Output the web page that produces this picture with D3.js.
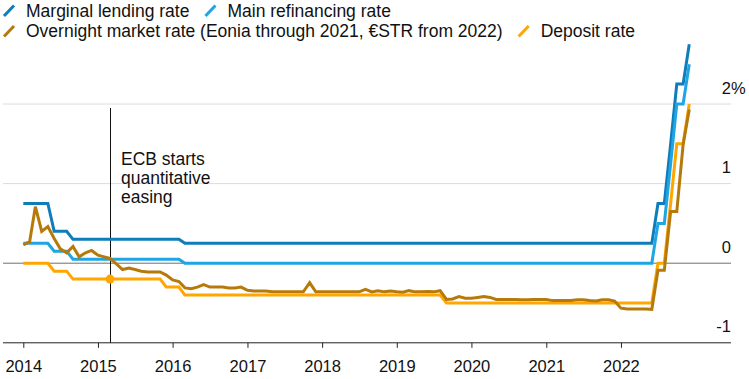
<!DOCTYPE html>
<html>
<head>
<meta charset="utf-8">
<script src="https://cdn.jsdelivr.net/npm/d3@7"></script>
<style>
  body { margin: 0; background: #fff; }
  svg { display: block; font-family: "Liberation Sans", Arial, sans-serif; }
</style>
</head>
<body>
<script>
// Year ticks and y ticks.
const yearTicks = [2014, 2015, 2016, 2017, 2018, 2019, 2020, 2021, 2022];
const yTicks = [-1, 0, 1, 2];

// Policy rates, vertices (month, %).
const marginalLending = [
  ['2014-01', 0.75], ['2014-05', 0.75], ['2014-06', 0.40], ['2014-08', 0.40],
  ['2014-09', 0.30], ['2016-02', 0.30], ['2016-03', 0.25], ['2022-06', 0.25],
  ['2022-07', 0.75], ['2022-08', 0.75], ['2022-09', 1.50], ['2022-10', 2.25],
  ['2022-11', 2.25], ['2022-12', 2.75]
];
const mainRefinancing = [
  ['2014-01', 0.25], ['2014-05', 0.25], ['2014-06', 0.15], ['2014-08', 0.15],
  ['2014-09', 0.05], ['2016-02', 0.05], ['2016-03', 0.00], ['2022-06', 0.00],
  ['2022-07', 0.50], ['2022-08', 0.50], ['2022-09', 1.25], ['2022-10', 2.00],
  ['2022-11', 2.00], ['2022-12', 2.50]
];
const depositRate = [
  ['2014-01', 0.00], ['2014-05', 0.00], ['2014-06', -0.10], ['2014-08', -0.10],
  ['2014-09', -0.20], ['2015-11', -0.20], ['2015-12', -0.30], ['2016-02', -0.30],
  ['2016-03', -0.40], ['2019-08', -0.40], ['2019-09', -0.50], ['2022-06', -0.50],
  ['2022-07', 0.00], ['2022-08', 0.00], ['2022-09', 0.75], ['2022-10', 1.50],
  ['2022-11', 1.50], ['2022-12', 2.00]
];

// Overnight market rate, monthly Jan 2014 - Dec 2022.
const overnightStart = '2014-01';
const overnightRate = [
  // 2014
  0.23, 0.27, 0.71, 0.40, 0.46, 0.31, 0.18, 0.13, 0.21, 0.08, 0.13, 0.16,
  // 2015
  0.10, 0.08, 0.06, -0.01, -0.08, -0.06, -0.08, -0.10, -0.11, -0.11, -0.11, -0.15,
  // 2016
  -0.21, -0.23, -0.31, -0.32, -0.30, -0.27, -0.30, -0.30, -0.30, -0.31, -0.31, -0.30,
  // 2017
  -0.34, -0.35, -0.35, -0.35, -0.36, -0.36, -0.36, -0.36, -0.36, -0.36, -0.245, -0.36,
  // 2018
  -0.36, -0.36, -0.36, -0.36, -0.36, -0.36, -0.36, -0.33, -0.36, -0.345, -0.36, -0.35,
  // 2019
  -0.36, -0.365, -0.345, -0.36, -0.36, -0.355, -0.36, -0.345, -0.455, -0.45, -0.42, -0.44,
  // 2020
  -0.44, -0.43, -0.42, -0.43, -0.455, -0.455, -0.455, -0.455, -0.46, -0.46, -0.455, -0.455,
  // 2021
  -0.455, -0.47, -0.47, -0.47, -0.47, -0.46, -0.46, -0.47, -0.475, -0.46, -0.46, -0.475,
  // 2022
  -0.565, -0.575, -0.575, -0.575, -0.575, -0.58, -0.09, -0.09, 0.65, 0.65, 1.49, 1.93
];

// Annotation.
const qeStart = ['2015-03', -0.20];
const qeLabel = ['ECB starts', 'quantitative', 'easing'];

const legendRows = [
  [{ name: 'Marginal lending rate', color: '#0f7dba' },
   { name: 'Main refinancing rate', color: '#1ea5e3' }],
  [{ name: 'Overnight market rate (Eonia through 2021, €STR from 2022)', color: '#b67a0b' },
   { name: 'Deposit rate', color: '#ffa600' }]
];

const width = 749;
const height = 379;
const parseMonth = d3.timeParse('%Y-%m');

const xScale = d3.scaleTime()
  .domain([new Date(2014, 0, 1), new Date(2023, 0, 1)])
  .range([23.3, 695.6]);
const yScale = d3.scaleLinear()
  .domain([-1, 2])
  .range([342.8, 104]);

const svg = d3.select('body')
  .append('svg')
  .attr('width', width)
  .attr('height', height);

// Gridlines.
svg.append('g')
  .selectAll('line')
  .data(yTicks.filter((d) => d > 0))
  .enter()
  .append('line')
  .attr('x1', 3)
  .attr('x2', 731)
  .attr('y1', (d) => yScale(d))
  .attr('y2', (d) => yScale(d))
  .attr('stroke', '#dcdcdc')
  .attr('stroke-width', 1);

svg.append('line')
  .attr('x1', 3)
  .attr('x2', 731)
  .attr('y1', yScale(0))
  .attr('y2', yScale(0))
  .attr('stroke', '#6e6e6e')
  .attr('stroke-width', 1);

// Y labels.
const yLabels = svg.append('g')
  .style('font-size', '16.5px')
  .attr('fill', '#111');
yLabels.selectAll('text')
  .data(yTicks)
  .enter()
  .append('text')
  .attr('x', 731)
  .attr('y', (d) => yScale(d) - 10.5)
  .attr('text-anchor', 'end')
  .text((d) => d);
yLabels.append('text')
  .attr('x', 731)
  .attr('y', yScale(d3.max(yTicks)) - 10.5)
  .text('%');

// X axis.
const xAxis = d3.axisBottom(xScale)
  .tickValues(yearTicks.map((y) => new Date(y, 0, 1)))
  .tickFormat(d3.timeFormat('%Y'))
  .tickSize(5)
  .tickPadding(12.8);

const gx = svg.append('g')
  .attr('transform', 'translate(0,' + yScale(-1) + ')')
  .call(xAxis);
gx.select('.domain').remove();
gx.selectAll('.tick line').attr('stroke', '#222');
gx.selectAll('.tick text')
  .attr('fill', '#111')
  .style('font-size', '16.5px')
  .style('font-family', '"Liberation Sans", Arial, sans-serif');

svg.append('line')
  .attr('x1', 3)
  .attr('x2', 731)
  .attr('y1', yScale(-1))
  .attr('y2', yScale(-1))
  .attr('stroke', '#222')
  .attr('stroke-width', 1);

// QE annotation line.
const qeX = Math.round(xScale(parseMonth(qeStart[0]))) + 0.5;
svg.append('line')
  .attr('x1', qeX)
  .attr('x2', qeX)
  .attr('y1', yScale(1.95))
  .attr('y2', yScale(-1))
  .attr('stroke', '#111')
  .attr('stroke-width', 1);

svg.append('text')
  .style('font-size', '17.5px')
  .attr('fill', '#111')
  .selectAll('tspan')
  .data(qeLabel)
  .enter()
  .append('tspan')
  .attr('x', qeX + 10.5)
  .attr('y', (d, i) => 165 + i * 19)
  .text((d) => d);

// Series.
const line = d3.line()
  .x((d) => xScale(d.date))
  .y((d) => yScale(d.value));

const toPoints = (arr) => arr.map((d) => ({ date: parseMonth(d[0]), value: d[1] }));
const overnightPoints = overnightRate.map((v, i) => ({
  date: d3.timeMonth.offset(parseMonth(overnightStart), i),
  value: v
}));

const series = [
  { points: toPoints(marginalLending), color: legendRows[0][0].color },
  { points: toPoints(mainRefinancing), color: legendRows[0][1].color },
  { points: toPoints(depositRate), color: legendRows[1][1].color },
  { points: overnightPoints, color: legendRows[1][0].color }
];

svg.append('g')
  .selectAll('path')
  .data(series)
  .enter()
  .append('path')
  .attr('d', (d) => line(d.points))
  .attr('fill', 'none')
  .attr('stroke', (d) => d.color)
  .attr('stroke-width', 3);

svg.append('circle')
  .attr('cx', xScale(parseMonth(qeStart[0])))
  .attr('cy', yScale(qeStart[1]))
  .attr('r', 4.5)
  .attr('fill', legendRows[1][1].color);

// Legend.
const legend = svg.append('g')
  .style('font-size', '17.5px');
legendRows.forEach((row, r) => {
  const base = 16.5 + r * 20.5;
  let x = 4;
  row.forEach((item) => {
    legend.append('line')
      .attr('x1', x)
      .attr('y1', base - 0.5)
      .attr('x2', x + 10)
      .attr('y2', base - 11)
      .attr('stroke', item.color)
      .attr('stroke-width', 3);
    const t = legend.append('text')
      .attr('x', x + 22)
      .attr('y', base)
      .attr('fill', '#111')
      .text(item.name);
    x = x + 22 + t.node().getComputedTextLength() + 16;
  });
});
</script>
</body>
</html>
